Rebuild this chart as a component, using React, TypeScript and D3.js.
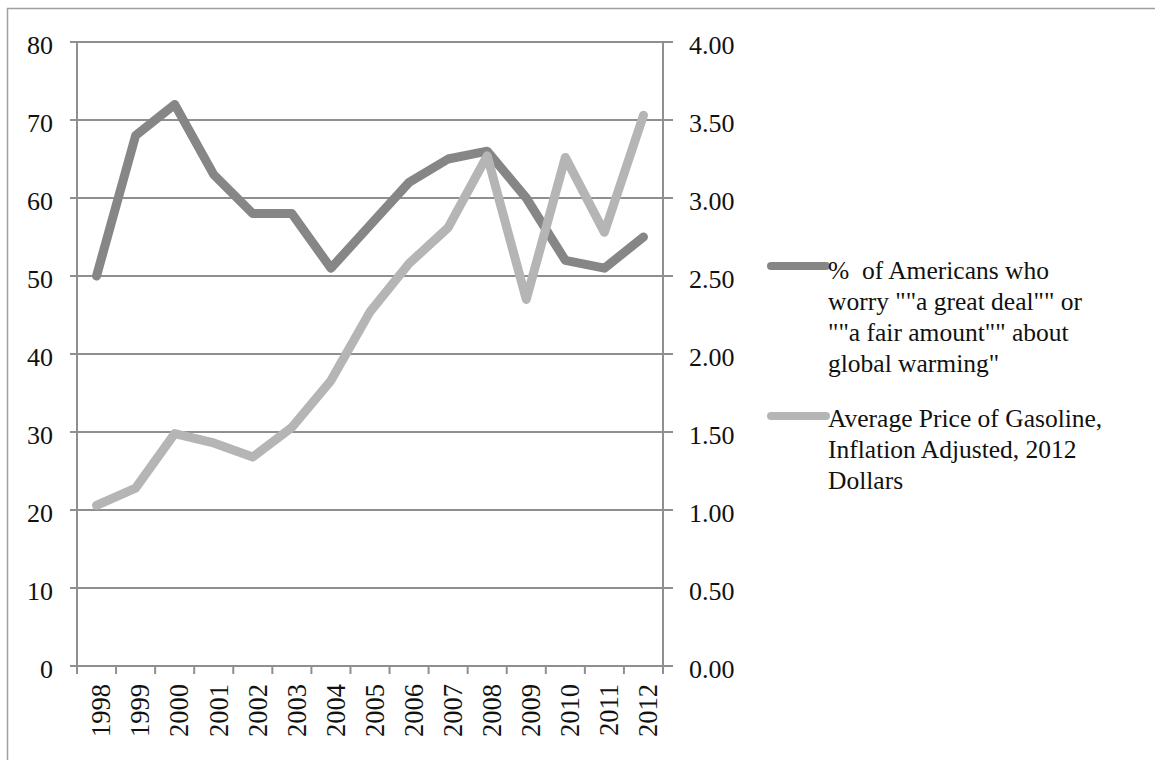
import React from "react";
import * as d3 from "d3";

const years = ["1998","1999","2000","2001","2002","2003","2004","2005","2006","2007","2008","2009","2010","2011","2012"];
const worryPct = [50, 68, 72, 63, 58, 58, 51, 56.5, 62, 65, 66, 60, 52, 51, 55];
const gasPrice = [1.03, 1.14, 1.49, 1.43, 1.34, 1.53, 1.83, 2.27, 2.58, 2.81, 3.27, 2.35, 3.26, 2.78, 3.53];
const leftTicks = [0, 10, 20, 30, 40, 50, 60, 70, 80];
const rightTicks = [0, 0.5, 1, 1.5, 2, 2.5, 3, 3.5, 4];
const legendWorry = ["%  of Americans who", "worry \"\"a great deal\"\" or", "\"\"a fair amount\"\" about", "global warming\""];
const legendGas = ["Average Price of Gasoline,", "Inflation Adjusted, 2012", "Dollars"];

const W = 1155, H = 760;
const plot = { left: 77, right: 663, top: 42, bottom: 666 };
const FONT = "'Liberation Serif', 'Times New Roman', serif";
const GRID = "#8f8f8f";
const DARK = "#868686";
const LIGHT = "#b5b5b5";

export default function App() {
  const x = d3.scaleBand<string>().domain(years).range([plot.left, plot.right]);
  const yL = d3.scaleLinear().domain([0, 80]).range([plot.bottom, plot.top]);
  const yR = d3.scaleLinear().domain([0, 4]).range([plot.bottom, plot.top]);
  const cx = (y: string) => (x(y) as number) + x.bandwidth() / 2;

  const lineL = d3.line<number>().x((_, i) => cx(years[i])).y((d) => yL(d));
  const lineR = d3.line<number>().x((_, i) => cx(years[i])).y((d) => yR(d));

  const boundaries = d3.range(years.length + 1).map((i) => plot.left + i * x.step());

  return (
    <svg width={W} height={H} style={{ position: "absolute", left: 0, top: 0, background: "#fff" }}>
      <rect x={7.5} y={8.5} width={W + 10} height={H + 10} fill="#fff" stroke="#a0a0a0" strokeWidth={1.5} />
      {leftTicks.map((t) => (
        <line key={"g" + t} x1={plot.left - 7} x2={plot.right} y1={yL(t)} y2={yL(t)} stroke={GRID} strokeWidth={2} />
      ))}
      {rightTicks.map((t) => (
        <line key={"rt" + t} x1={plot.right} x2={plot.right + 10} y1={yR(t)} y2={yR(t)} stroke={GRID} strokeWidth={2} />
      ))}
      <line x1={plot.left} x2={plot.left} y1={plot.top} y2={plot.bottom} stroke={GRID} strokeWidth={2} />
      <line x1={plot.right} x2={plot.right} y1={plot.top} y2={plot.bottom} stroke={GRID} strokeWidth={2} />
      {boundaries.map((b, i) => (
        <line key={"xt" + i} x1={b} x2={b} y1={plot.bottom} y2={plot.bottom + 8} stroke={GRID} strokeWidth={2} />
      ))}
      {leftTicks.map((t) => (
        <text key={"ll" + t} x={53} y={yL(t) + 3} dy="0.35em" textAnchor="end" fontFamily={FONT} fontSize={26} fill="#111">
          {t}
        </text>
      ))}
      {rightTicks.map((t) => (
        <text key={"rl" + t} x={689} y={yR(t) + 3} dy="0.35em" textAnchor="start" fontFamily={FONT} fontSize={26} fill="#111">
          {t.toFixed(2)}
        </text>
      ))}
      {years.map((yv) => (
        <text key={"xl" + yv} transform={`translate(${cx(yv) + 4.5},${plot.bottom + 18}) rotate(-90)`} dy="0.35em" textAnchor="end" fontFamily={FONT} fontSize={26.5} fill="#111">
          {yv}
        </text>
      ))}
      <path d={lineL(worryPct) || ""} fill="none" stroke={DARK} strokeWidth={9} strokeLinejoin="round" strokeLinecap="round" />
      <path d={lineR(gasPrice) || ""} fill="none" stroke={LIGHT} strokeWidth={9} strokeLinejoin="round" strokeLinecap="round" />
      <line x1={771} x2={826} y1={266} y2={266} stroke={DARK} strokeWidth={8} strokeLinecap="round" />
      {legendWorry.map((s, i) => (
        <text key={"lw" + i} x={828} y={279 + i * 31} fontFamily={FONT} fontSize={25.5} fill="#111" style={{ whiteSpace: "pre" }}>
          {s}
        </text>
      ))}
      <line x1={771} x2={826} y1={416} y2={416} stroke={LIGHT} strokeWidth={8} strokeLinecap="round" />
      {legendGas.map((s, i) => (
        <text key={"lg" + i} x={828} y={427 + i * 31} fontFamily={FONT} fontSize={25.5} fill="#111">
          {s}
        </text>
      ))}
    </svg>
  );
}
